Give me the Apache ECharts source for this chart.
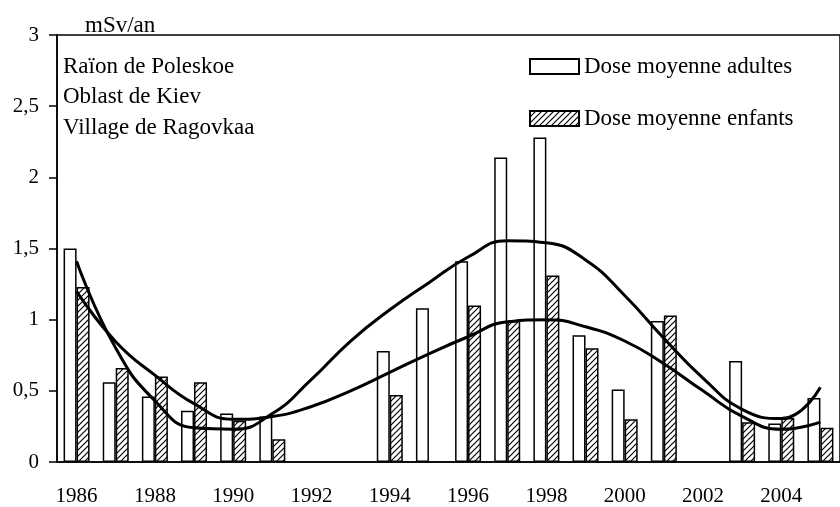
<!DOCTYPE html>
<html>
<head>
<meta charset="utf-8">
<title>Dose moyenne - Ragovkaa</title>
<script src="https://cdn.jsdelivr.net/npm/echarts@6/dist/echarts.min.js"></script>
<style>
  html, body { margin: 0; padding: 0; background: #fff; }
  #doseChart { width: 840px; height: 507px; }
</style>
</head>
<body>
<div id="doseChart"></div>
<script>
  var years = ['1986', '1987', '1988', '1989', '1990', '1991', '1992', '1993', '1994', '1995',
    '1996', '1997', '1998', '1999', '2000', '2001', '2002', '2003', '2004', '2005']
  var doseAdultes = [1.5, 0.56, 0.46, 0.36, 0.34, 0.32, '-', '-', 0.78, 1.08,
    1.41, 2.14, 2.28, 0.89, 0.51, 0.99, '-', 0.71, 0.27, 0.45]
  var doseEnfants = [1.23, 0.66, 0.6, 0.56, 0.29, 0.16, '-', '-', 0.47, '-',
    1.1, 0.99, 1.31, 0.8, 0.3, 1.03, '-', 0.28, 0.31, 0.24]
  // courbes de tendance
  var tendanceAdultes = [1.41, 0.8, 0.43, 0.24, 0.23, 0.34, 0.58, 0.85, 1.07, 1.26,
    1.44, 1.555, 1.54, 1.42, 1.17, 0.87, 0.59, 0.37, 0.305, 0.525]
  var tendanceEnfants = [1.2, 0.845, 0.61, 0.41, 0.3, 0.32, 0.39, 0.5, 0.63, 0.76,
    0.88, 0.985, 1.0, 0.95, 0.85, 0.69, 0.5, 0.32, 0.23, 0.28]
  var notes = ['Raïon de Poleskoe', 'Oblast de Kiev', 'Village de Ragovkaa']
  var unite = 'mSv/an'

  var police = '"Liberation Serif", "Times New Roman", serif'

  function hachures () {
    var c = document.createElement('canvas')
    c.width = 6
    c.height = 6
    var ctx = c.getContext('2d')
    ctx.fillStyle = '#fff'
    ctx.fillRect(0, 0, 6, 6)
    ctx.strokeStyle = '#000'
    ctx.lineWidth = 1.2
    ctx.beginPath()
    ctx.moveTo(0, 6)
    ctx.lineTo(6, 0)
    ctx.moveTo(-1, 1)
    ctx.lineTo(1, -1)
    ctx.moveTo(5, 7)
    ctx.lineTo(7, 5)
    ctx.stroke()
    return c
  }

  function showDoseChart () {
    var chart = {}
    var graphics = notes.map(function (t, i) {
      return {
        type: 'text',
        left: 63,
        top: 55 + i * 30.5,
        style: { text: t, font: '23px ' + police, fill: '#000' }
      }
    })
    graphics.push({
      type: 'text',
      left: 85,
      top: 14,
      style: { text: unite, font: '23px ' + police, fill: '#000' }
    })

    chart.option = {
      animation: false,
      backgroundColor: '#fff',
      grid: {
        left: 57,
        top: 35,
        width: 798,
        height: 427,
        show: true,
        borderColor: '#000',
        borderWidth: 1.5
      },
      legend: {
        orient: 'vertical',
        left: 524,
        top: 50,
        itemWidth: 49,
        itemHeight: 15,
        itemGap: 29,
        icon: 'rect',
        data: ['Dose moyenne adultes', 'Dose moyenne enfants'],
        textStyle: { fontFamily: police, fontSize: 23, color: '#000' }
      },
      graphic: graphics,
      xAxis: {
        type: 'category',
        data: years,
        axisLine: { lineStyle: { color: '#000', width: 1.5 } },
        axisTick: { length: 7, lineStyle: { color: '#000', width: 1.5 } },
        axisLabel: {
          interval: 1,
          margin: 24,
          color: '#000',
          fontFamily: police,
          fontSize: 21
        },
        splitLine: { show: false }
      },
      yAxis: {
        type: 'value',
        min: 0,
        max: 3,
        interval: 0.5,
        axisLine: { show: true, lineStyle: { color: '#000', width: 1.5 } },
        axisTick: { show: true, length: 8, lineStyle: { color: '#000', width: 1.5 } },
        axisLabel: {
          margin: 18,
          color: '#000',
          fontFamily: police,
          fontSize: 21,
          formatter: function (v) { return String(v).replace('.', ',') }
        },
        splitLine: { show: false }
      },
      series: [
        {
          name: 'Dose moyenne adultes',
          type: 'bar',
          barWidth: 13,
          barGap: 0,
          itemStyle: { color: '#fff', borderColor: '#000', borderWidth: 1.5 },
          data: doseAdultes
        },
        {
          name: 'Dose moyenne enfants',
          type: 'bar',
          barWidth: 13,
          barGap: 0,
          itemStyle: {
            color: { image: hachures(), repeat: 'repeat' },
            borderColor: '#000',
            borderWidth: 1.5
          },
          data: doseEnfants
        },
        {
          name: 'tendance adultes',
          type: 'line',
          smooth: 0.5,
          symbol: 'none',
          lineStyle: { color: '#000', width: 3 },
          data: tendanceAdultes
        },
        {
          name: 'tendance enfants',
          type: 'line',
          smooth: 0.5,
          symbol: 'none',
          lineStyle: { color: '#000', width: 3 },
          data: tendanceEnfants
        }
      ]
    }
    chart.graph = echarts.init(document.getElementById('doseChart'))
    chart.graph.setOption(chart.option)
  }

  showDoseChart()
</script>
</body>
</html>
